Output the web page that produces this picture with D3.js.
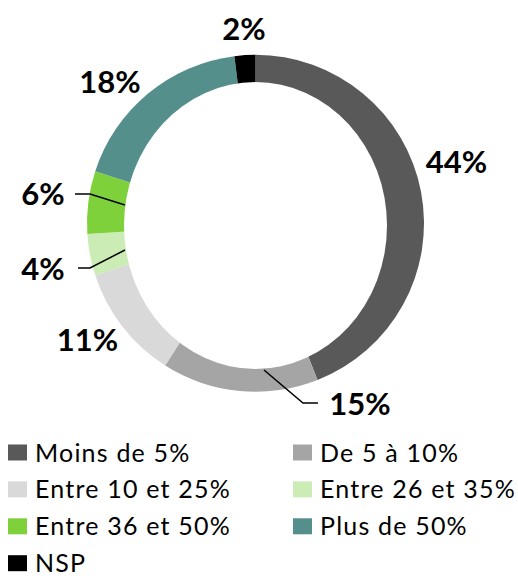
<!DOCTYPE html>
<html>
<head>
<meta charset="utf-8">
<script src="https://cdn.jsdelivr.net/npm/d3@7"></script>
<style>
  html, body { margin: 0; padding: 0; background: #fff; }
  svg { display: block; }
</style>
</head>
<body>
<svg id="chart" width="518" height="576"></svg>
<script>
// Share of respondents by bracket
const categories = ["Moins de 5%", "De 5 à 10%", "Entre 10 et 25%", "Entre 26 et 35%", "Entre 36 et 50%", "Plus de 50%", "NSP"];
const values = [44, 15, 11, 4, 6, 18, 2];
const colors = ["#595959", "#a5a5a5", "#d9d9d9", "#cbedb5", "#7fd13b", "#558f8b", "#000000"];
const labels = values.map(v => v + "%");

const svg = d3.select("#chart");
const cx = 255.5, cy = 223.3, outerR = 168.5;

const pie = d3.pie().sort(null).value(d => d)(values);
const arc = d3.arc().innerRadius(0).outerRadius(outerR);

const g = svg.append("g").attr("transform", `translate(${cx},${cy})`);
g.selectAll("path.slice")
  .data(pie)
  .join("path")
  .attr("class", "slice")
  .attr("d", arc)
  .attr("fill", (d, i) => colors[i]);

// Doughnut hole
svg.append("ellipse")
  .attr("cx", 255.5).attr("cy", 225.5)
  .attr("rx", 131.5).attr("ry", 143.5)
  .attr("fill", "#fff");

// Leader lines for the small slices
const leaders = [
  [[264, 370], [303, 403], [318, 403]],   // 15%
  [[125, 250], [90, 268], [78, 268]],     // 4%
  [[125, 205], [90, 194], [75, 194]]      // 6%
];
svg.selectAll("path.leader")
  .data(leaders)
  .join("path")
  .attr("class", "leader")
  .attr("d", d3.line())
  .attr("fill", "none")
  .attr("stroke", "#000")
  .attr("stroke-width", 1.5);

// Data labels
const labelPos = [[456.5, 173], [360, 415], [87.5, 351], [43, 280], [43, 205], [110, 93], [244, 40]];
svg.selectAll("text.lbl")
  .data(labels)
  .join("text")
  .attr("class", "lbl")
  .attr("x", (d, i) => labelPos[i][0])
  .attr("y", (d, i) => labelPos[i][1])
  .attr("text-anchor", "middle")
  .attr("font-family", "Lato, 'Open Sans', sans-serif")
  .attr("font-weight", "bold")
  .attr("font-size", 31)
  .attr("fill", "#000")
  .text(d => d);

// Legend, two columns
const legend = svg.append("g");
const items = legend.selectAll("g.item")
  .data(categories)
  .join("g")
  .attr("class", "item")
  .attr("transform", (d, i) => `translate(${i % 2 === 0 ? 8 : 293},${461.5 + Math.floor(i / 2) * 36.9})`);
items.append("rect")
  .attr("x", 0).attr("y", -17)
  .attr("width", 19).attr("height", 16)
  .attr("fill", (d, i) => colors[i]);
items.append("text")
  .attr("x", 27).attr("y", 0)
  .attr("font-family", "Lato, 'Open Sans', sans-serif")
  .attr("font-size", 25)
  .attr("letter-spacing", 1.2)
  .attr("fill", "#000")
  .text(d => d);
</script>
</body>
</html>
